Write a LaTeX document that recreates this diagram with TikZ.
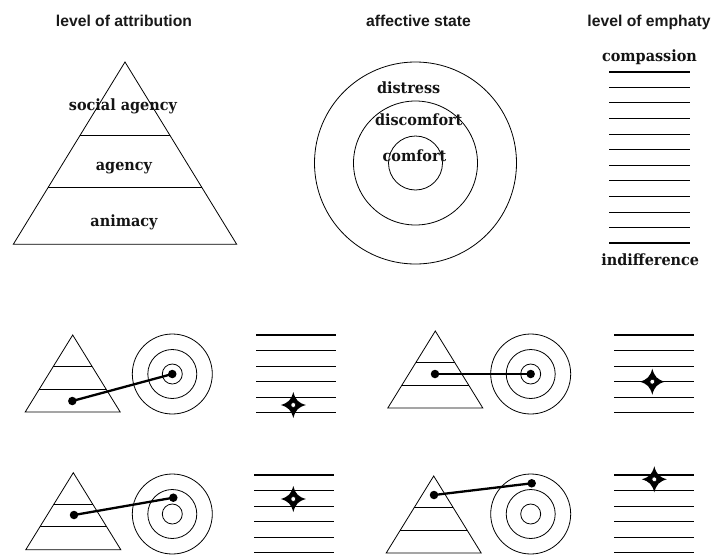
\documentclass[tikz,border=0pt]{standalone}
\usepackage{fontspec}
\setmainfont[FakeStretch=0.93]{DejaVu Serif}
\newfontfamily\hdrfont{Liberation Sans}
\begin{document}
\begin{tikzpicture}[x=1pt,y=-1pt,
  hdr/.style={font=\hdrfont\bfseries\fontsize{15.7}{18}\selectfont, anchor=base, text=black!90, inner sep=0},
  lbl/.style={font=\bfseries\fontsize{15.5}{18}\selectfont, anchor=base, text=black!92, inner sep=0},
  thinline/.style={line width=0.8pt},
  thickline/.style={line width=1.6pt},
  conn/.style={line width=2.3pt},
  dot/.style={circle, fill=black, inner sep=0, minimum size=8.5pt},
  pyramid/.pic={
    \draw[thinline] (0,0) -- (47.5,77) -- (-47.5,77) -- cycle;
    \draw[thinline] (-19.5,31.6) -- (19.5,31.6);
    \draw[thinline] (-33.3,53.9) -- (33.3,53.9);
  },
  rings/.pic={
    \draw[thinline] (0,0) circle (40);
    \draw[thinline] (0,0) circle (24.5);
    \draw[thinline] (0,0) circle (10);
  },
  ladder/.pic={
    \draw[thickline] (0,0) -- (80,0);
    \foreach \k in {1,...,4} \draw[thinline] (0,15.5*\k) -- (80,15.5*\k);
    \draw[thickline] (0,77.5) -- (80,77.5);
  },
  mstar/.pic={
    \fill[black] (0,-13) .. controls (2.2,-5) and (5,-2.2) .. (12.5,0)
      .. controls (5,2.2) and (2.2,5) .. (0,13)
      .. controls (-2.2,5) and (-5,2.2) .. (-12.5,0)
      .. controls (-5,-2.2) and (-2.2,-5) .. cycle;
    \draw[black, fill=white, line width=0.5pt] (0,0) circle (2.4);
  }]
\useasboundingbox (0,0) rectangle (713,555);

% headers
\node[hdr] (h1) at (124,26.5) {level of attribution};
\node[hdr] (h2) at (418.5,26.5) {affective state};
\node[hdr] (h3) at (649,26.5) {level of emphaty};

% big pyramid
\coordinate (apex) at (125,62);
\coordinate (bl) at (13.3,244.3);
\coordinate (br) at (236.7,244.3);
\draw[thinline] (apex) -- (br) -- (bl) -- cycle;
\draw[thinline] (80.3,135) -- (169.7,135);
\draw[thinline] (48,187.7) -- (202,187.7);
\node[lbl] (sa) at (123,110.5) {social agency};
\node[lbl] (ag) at (124,170) {agency};
\node[lbl] (an) at (124,226) {animacy};

% big circles
\coordinate (cc) at (415.5,163);
\draw[thinline] (cc) circle (101);
\draw[thinline] (cc) circle (62);
\draw[thinline] (cc) circle (27);
\node[lbl] (ds) at (408.7,93.3) {distress};
\node[lbl] (dc) at (418.7,125) {discomfort};
\node[lbl] (cf) at (414.5,161) {comfort};

% big ladder
\draw[thickline] (609.3,71.7) -- (690,71.7);
\foreach \k in {1,...,10} \draw[thinline] (609.3,71.7+15.58*\k) -- (690,71.7+15.58*\k);
\draw[thickline] (609.3,243) -- (690,243);
\node[lbl] (cp) at (649.5,61.7) {compassion};
\node[lbl] (ind) at (650.3,265) {indifference};

% row 1 left
\pic at (72.7,335) {pyramid};
\pic at (172.3,374) {rings};
\pic at (256,335) {ladder};
\pic at (293.3,405) {mstar};
\node[dot] (a1) at (72.3,401) {};
\node[dot] (b1) at (172.3,374) {};
\draw[conn] (a1.center) -- (b1.center);

% row 1 right
\pic at (435.3,331) {pyramid};
\pic at (530.7,374) {rings};
\pic at (614,335) {ladder};
\pic at (652.3,381.7) {mstar};
\node[dot] (a2) at (435,374) {};
\node[dot] (b2) at (530.7,374) {};
\draw[conn] (a2.center) -- (b2.center);

% row 2 left
\pic at (73.3,472.7) {pyramid};
\pic at (172.3,514) {rings};
\pic at (254,475) {ladder};
\pic at (293.3,499) {mstar};
\node[dot] (a3) at (74,515) {};
\node[dot] (b3) at (173.3,497.7) {};
\draw[conn] (a3.center) -- (b3.center);

% row 2 right
\pic at (433.7,476) {pyramid};
\pic at (530.7,514) {rings};
\pic at (614,475) {ladder};
\pic at (654.3,479.3) {mstar};
\node[dot] (a4) at (434,495) {};
\node[dot] (b4) at (531.7,483.3) {};
\draw[conn] (a4.center) -- (b4.center);
\end{tikzpicture}
\end{document}
